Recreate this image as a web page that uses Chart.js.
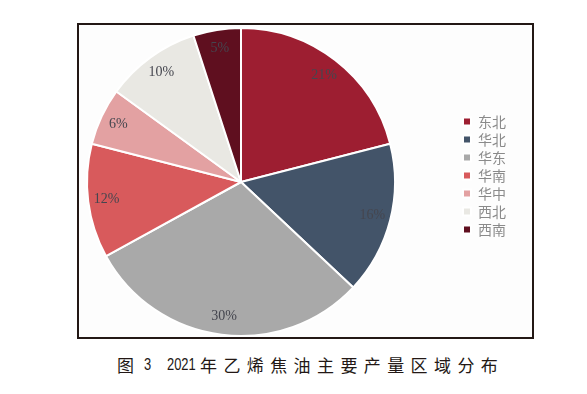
<!DOCTYPE html>
<html>
<head>
<meta charset="utf-8">
<script src="https://cdn.jsdelivr.net/npm/chart.js@4/dist/chart.umd.min.js"></script>
<style>
  body { margin: 0; width: 587px; height: 394px; background: #fff; position: relative; overflow: hidden; }
  #frame { position: absolute; left: 77px; top: 23px; width: 453px; height: 312px; border: 2px solid #231815; background: #fdfdfd; }
  #wrap { position: absolute; left: 23px; top: 14px; width: 493px; height: 323px; }
  #caption { position: absolute; top: 355px; left: 0; width: 587px; height: 20px; font-family: "Noto Sans CJK SC", sans-serif; font-size: 17px; color: #231815; line-height: 20px; }
  #caption span { position: absolute; top: 0; white-space: nowrap; }
  .num { font-family: "Liberation Sans", sans-serif; font-size: 17px; display: inline-block; transform-origin: left center; transform: scaleX(0.76); }
</style>
</head>
<body>
<div id="frame"></div>
<div id="wrap"><canvas id="pieChart" width="493" height="323"></canvas></div>
<div id="caption">
  <span style="left:117px">图</span>
  <span class="num" style="left:144px">3</span>
  <span class="num" style="left:167px">2021</span>
  <span style="left:200px; letter-spacing:6.4px">年乙烯焦油主要产量区域分布</span>
</div>
<script>
const regions = ['东北', '华北', '华东', '华南', '华中', '西北', '西南'];
const shares = [21, 16, 30, 12, 6, 10, 5];
const sliceColors = ['#9d1e31', '#435469', '#a9a9a9', '#d85a5c', '#e3a1a2', '#e9e8e3', '#5f0f1f'];

// percent labels drawn inside each slice
const sliceLabels = {
    id: 'sliceLabels',
    afterDatasetsDraw(chart) {
        const ctx = chart.ctx;
        const meta = chart.getDatasetMeta(0);
        ctx.save();
        ctx.font = '14px "Liberation Serif", "Times New Roman", serif';
        ctx.fillStyle = '#45464f';
        ctx.textAlign = 'center';
        ctx.textBaseline = 'middle';
        meta.data.forEach((arc, i) => {
            const p = arc.getProps(['x', 'y', 'startAngle', 'endAngle', 'outerRadius'], true);
            const mid = (p.startAngle + p.endAngle) / 2;
            const r = p.outerRadius * 0.88;
            ctx.fillText(shares[i] + '%', p.x + Math.cos(mid) * r, p.y + Math.sin(mid) * r);
        });
        ctx.restore();
    }
};

const ctx = document.getElementById('pieChart').getContext('2d');
const pieChart = new Chart(ctx, {
    type: 'pie',
    data: {
        labels: regions,
        datasets: [{
            data: shares,
            backgroundColor: sliceColors,
            borderColor: '#ffffff',
            borderWidth: 2,
            hoverOffset: 0
        }]
    },
    options: {
        responsive: false,
        animation: false,
        layout: { padding: 0 },
        plugins: {
            title: {
                display: true,
                text: ' ',
                fullSize: false,
                font: { size: 13, lineHeight: 1 },
                padding: 0
            },
            legend: {
                position: 'right',
                labels: {
                    boxWidth: 8,
                    boxHeight: 8,
                    padding: 4,
                    color: '#8a8a8a',
                    font: { size: 14, family: '"Noto Sans CJK SC", sans-serif' }
                }
            },
            tooltip: { enabled: false }
        }
    },
    plugins: [sliceLabels]
});
</script>
</body>
</html>
